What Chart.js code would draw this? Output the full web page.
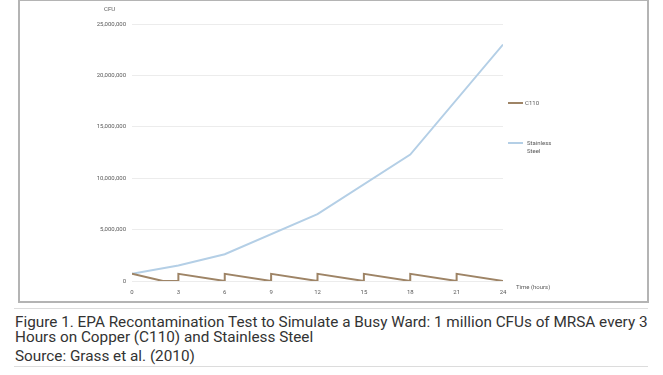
<!DOCTYPE html>
<html>
<head>
<meta charset="utf-8">
<script src="https://cdn.jsdelivr.net/npm/chart.js@4"></script>
<style>
  html, body { margin: 0; padding: 0; background: #fff; }
  body { width: 663px; height: 375px; position: relative; overflow: hidden; font-family: Roboto, "Liberation Sans", sans-serif; }
  .box { position: absolute; left: 18px; top: -1px; width: 627px; height: 300px; border: 2px solid #b4b4b4; box-sizing: content-box; }
  #chart { position: absolute; left: 0; top: 0; }
  .lbl { position: absolute; font-size: 6px; color: #5a5a5a; line-height: 8px; }
  .legend-line { position: absolute; height: 2px; width: 15px; }
  .rule { position: absolute; left: 14px; width: 634px; height: 1px; background: #dcdcdc; }
  .caption { position: absolute; left: 15px; top: 315px; width: 638px; font-size: 15.3px; line-height: 15px; color: #333; }
  .caption p { margin: 0; }
  .caption p + p { margin-top: 4px; }
</style>
</head>
<body>
<div class="box"></div>
<canvas id="chart" width="663" height="302"></canvas>

<div class="lbl" style="left:104px; top:5px;">CFU</div>
<div class="lbl" style="left:516px; top:283px;">Time (hours)</div>

<div class="legend-line" style="left:508px; top:102px; background:#9e8466;"></div>
<div class="lbl" style="left:525px; top:99px;">C110</div>
<div class="legend-line" style="left:508px; top:142px; background:#b4cfe6;"></div>
<div class="lbl" style="left:527px; top:139px;">Stainless<br>Steel</div>

<div class="rule" style="top:308px;"></div>
<div class="caption">
  <p>Figure 1. EPA Recontamination Test to Simulate a Busy Ward: 1 million CFUs of MRSA every 3 Hours on Copper (C110) and Stainless Steel</p>
  <p>Source: Grass et al. (2010)</p>
</div>
<div class="rule" style="top:366px;"></div>

<script>
// Stainless steel readings (hours, CFU)
const steelHours = [0, 3, 6, 12, 18, 24];
const steelCfu = [700000, 1500000, 2600000, 6500000, 12300000, 23000000];

// Copper C110: re-inoculated every 3 hours, dies off before the next dose
const copperHours = [0, 2, 3, 3, 6, 6, 9, 9, 12, 12, 15, 15, 18, 18, 21, 21, 24];
const copperCfu = [700000, 0, 0, 700000, 0, 700000, 0, 700000, 0, 700000, 0, 700000, 0, 700000, 0, 700000, 0];

const xTicks = [0, 3, 6, 9, 12, 15, 18, 21, 24];
const yTicks = [0, 5000000, 10000000, 15000000, 20000000, 25000000];

const toPoints = (xs, ys) => xs.map((x, i) => ({ x: x, y: ys[i] }));

new Chart(document.getElementById('chart'), {
    type: 'line',
    data: {
        datasets: [
            {
                label: 'C110',
                data: toPoints(copperHours, copperCfu),
                borderColor: '#9e8466',
                borderWidth: 2,
                pointRadius: 0,
                tension: 0
            },
            {
                label: 'Stainless Steel',
                data: toPoints(steelHours, steelCfu),
                borderColor: '#b4cfe6',
                borderWidth: 2,
                pointRadius: 0,
                tension: 0
            }
        ]
    },
    options: {
        responsive: false,
        animation: false,
        layout: { padding: { top: 24, right: 160, bottom: 0, left: 0 } },
        plugins: { legend: { display: false }, tooltip: { enabled: false } },
        scales: {
            x: {
                type: 'linear',
                min: 0,
                max: 24,
                afterBuildTicks: axis => { axis.ticks = xTicks.map(v => ({ value: v })); },
                afterFit: axis => { axis.height = 21; },
                grid: { display: false, drawTicks: false },
                border: { display: false },
                ticks: { color: '#5a5a5a', font: { size: 6, family: 'Roboto' }, padding: 8 }
            },
            y: {
                min: 0,
                max: 25000000,
                afterBuildTicks: axis => { axis.ticks = yTicks.map(v => ({ value: v })); },
                afterFit: axis => { axis.width = 132; },
                grid: { color: '#ececec', lineWidth: 1, drawTicks: false },
                border: { display: false },
                ticks: {
                    color: '#5a5a5a',
                    font: { size: 6, family: 'Roboto' },
                    padding: 6,
                    callback: v => v.toLocaleString('en-US')
                }
            }
        }
    }
});
</script>
</body>
</html>
